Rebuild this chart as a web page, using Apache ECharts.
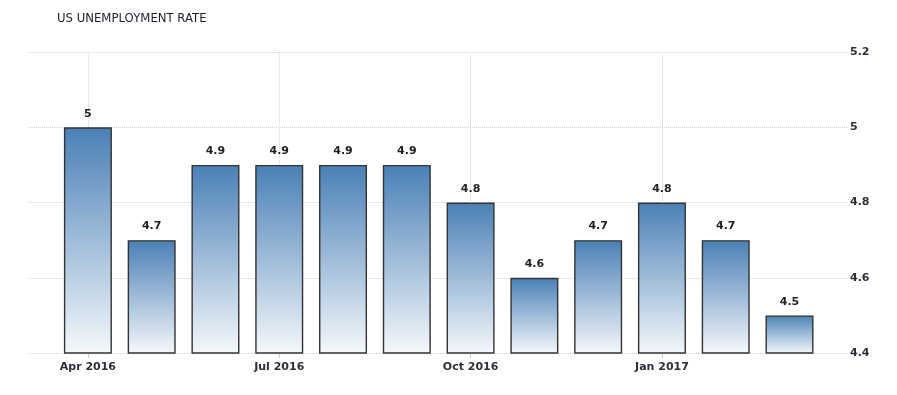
<!DOCTYPE html>
<html><head><meta charset="utf-8">
<script src="https://cdn.jsdelivr.net/npm/echarts@6/dist/echarts.min.js"></script>
<style>html,body{margin:0;padding:0;background:#fff}#c{width:897px;height:395px}</style>
</head><body><div id="c"></div>
<script>
const title = 'US UNEMPLOYMENT RATE';
const categories = ['Apr 2016','May 2016','Jun 2016','Jul 2016','Aug 2016','Sep 2016','Oct 2016','Nov 2016','Dec 2016','Jan 2017','Feb 2017','Mar 2017'];
const rates = [5, 4.7, 4.9, 4.9, 4.9, 4.9, 4.8, 4.6, 4.7, 4.8, 4.7, 4.5];
const yMin = 4.4, yMax = 5.2, yStep = 0.2;
const markedMonths = ['Apr 2016','Jul 2016','Oct 2016','Jan 2017'];

const chart = echarts.init(document.getElementById('c'));
const font = 'DejaVu Sans';
const dotted = {color:'#d2d2d2', type:[1,1], width:1};
const txt = {fontFamily:font,fontSize:11,fontWeight:'bold',color:'#2e2e3a'};
chart.setOption({
  animation:false,
  title:{text:title,left:57,top:13,padding:0,textStyle:{fontFamily:font,fontSize:11.7,fontWeight:'normal',color:'#1e1e2e'}},
  grid:[
    {left:28,right:50,top:52,bottom:42},
    {left:56,right:75.6,top:52,bottom:42}
  ],
  xAxis:[
    {type:'value',gridIndex:0,show:false,min:0,max:1},
    {type:'category',gridIndex:1,data:categories,
     axisLine:{show:false},
     axisTick:{show:true,alignWithLabel:true,interval:2,length:5,lineStyle:{color:'#d2d2d2'}},
     axisLabel:Object.assign({interval:2,margin:9},txt),
     splitLine:{show:false}}
  ],
  yAxis:[
    {type:'value',gridIndex:0,position:'right',min:yMin,max:yMax,interval:yStep,
     axisLine:{show:false},axisTick:{show:false},
     axisLabel:Object.assign({margin:3,formatter:v=>String(+v.toFixed(1))},txt),
     splitLine:{show:true,lineStyle:dotted}},
    {type:'value',gridIndex:1,min:yMin,max:yMax,interval:yStep,show:false,splitLine:{show:false}}
  ],
  series:[{
    type:'bar',xAxisIndex:1,yAxisIndex:1,data:rates,barWidth:48,
    itemStyle:{
      color:new echarts.graphic.LinearGradient(0,0,0,1,[{offset:0,color:'#4a80b6'},{offset:1,color:'#f5f8fb'}]),
      borderColor:'#333',borderWidth:1.4
    },
    label:Object.assign({show:true,position:'top',distance:8,formatter:p=>String(p.value)},txt,{color:'#222'}),
    markLine:{silent:true,z:1,symbol:'none',label:{show:false},lineStyle:dotted,
      data:markedMonths.map(m=>({xAxis:m}))},
    z:3
  }]
});
</script></body></html>
